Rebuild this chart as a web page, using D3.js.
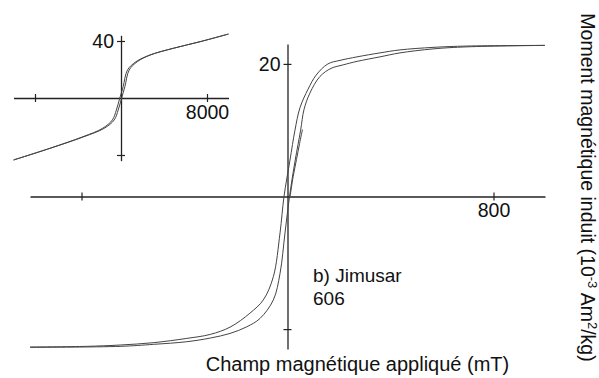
<!DOCTYPE html>
<html>
<head>
<meta charset="utf-8">
<script src="https://cdn.jsdelivr.net/npm/d3@7"></script>
<style>
  body { margin: 0; background: #fff; }
  svg text { font-family: "Liberation Sans", Arial, sans-serif; fill: #111; }
</style>
</head>
<body>
<div id="chart"></div>
<script>
// Main loop (field in mT, moment in 10^-3 Am2/kg)
const descendingBranch = [
  [1000, 22.79], [697, 22.69], [565, 22.49], [437, 22.11], [359, 21.66], [270, 21.06],
  [204, 20.53], [157, 20.0], [111, 18.3], [80, 16.2], [48.5, 13.4], [29, 10],
  [9.7, 5.5], [-13.6, 0], [-29, -5.5], [-55, -12.1], [-94, -15.6], [-146, -17.6],
  [-223, -19.7], [-300, -20.8], [-391, -21.4], [-521, -22.05], [-650, -22.4],
  [-780, -22.6], [-1000, -22.7]
];
const ascendingBranch = [
  [-1000, -22.75], [-650, -22.6], [-521, -22.3], [-391, -21.9], [-300, -21.35],
  [-223, -20.65], [-158, -19.65], [-107, -18.4], [-55, -15.6], [-29, -11.6],
  [-9.7, -5.5], [7.8, 0], [30, 5.5], [51, 10], [64, 13.1], [87, 15.6],
  [126, 18.1], [169, 19.32], [216, 19.85], [270, 20.38], [359, 21.06],
  [437, 21.66], [565, 22.26], [697, 22.57], [1000, 22.79]
];
const initialCurve = [[10, 0], [22, 3], [35, 5.6], [47, 8], [58, 10.1]];

// Inset (high field)
const insetDescending = [
  [10000, 44.9], [7350, 39.5], [4865, 34.9], [2698, 30.2], [1400, 25.5], [600, 19.6],
  [200, 7.9], [-110, 0], [-430, -8.4], [-800, -15.4], [-1720, -21.3], [-3550, -27.2],
  [-6620, -35.3], [-10000, -43.5]
];
const insetAscending = [
  [-10000, -43.5], [-6590, -35.3], [-3460, -27.2], [-1570, -21.3], [-630, -15.4],
  [-260, -8.4], [60, 0], [360, 7.9], [760, 19.6], [1520, 25.5], [2740, 30.2],
  [4880, 34.9], [7350, 39.5], [10000, 44.9]
];

const mainXTicks = [-800, 800];
const mainXTickLabels = ["", "800"];
const mainYTicks = [-20, 20];
const mainYTickLabels = ["", "20"];
const insetXTicks = [-8000, 8000];
const insetXTickLabels = ["", "8000"];
const insetYTicks = [-40, 40];
const insetYTickLabels = ["", "40"];

const xTitle = "Champ magnétique appliqué (mT)";
const sampleLabel = ["b) Jimusar", "606"];

const W = 599, H = 378;
const svg = d3.select("#chart").append("svg")
  .attr("width", W).attr("height", H);

function crossAxes(g, x, y, xt, xl, yt, yl, fontSize) {
  const ax = d3.axisBottom(x).tickValues(xt).tickSizeInner(4).tickSizeOuter(0).tickPadding(3)
    .tickFormat((d, i) => xl[i]);
  const ay = d3.axisLeft(y).tickValues(yt).tickSizeInner(4).tickSizeOuter(0).tickPadding(3)
    .tickFormat((d, i) => yl[i]);
  const gx = g.append("g").attr("transform", `translate(0,${y(0)})`).call(ax);
  const gy = g.append("g").attr("transform", `translate(${x(0)},0)`).call(ay);
  gx.selectAll(".tick line").attr("y1", -4).attr("y2", 4);
  gy.selectAll(".tick line").attr("x1", -4).attr("x2", 4);
  [gx, gy].forEach(a => {
    a.select(".domain").attr("stroke", "#222").attr("stroke-width", 1.3);
    a.selectAll(".tick line").attr("stroke", "#222").attr("stroke-width", 1.2);
    a.selectAll("text").style("font-size", fontSize + "px")
      .style("font-family", '"Liberation Sans", Arial, sans-serif').attr("fill", "#111");
  });
}

// main plot
const x = d3.scaleLinear().domain([-1000, 1000]).range([30, 545]);
const y = d3.scaleLinear().domain([-23, 23]).range([349, 44]);
const main = svg.append("g");
crossAxes(main, x, y, mainXTicks, mainXTickLabels, mainYTicks, mainYTickLabels, 19.5);

const line = d3.line().x(d => x(d[0])).y(d => y(d[1])).curve(d3.curveCatmullRom.alpha(0.5));
[descendingBranch, ascendingBranch, initialCurve].forEach(b => {
  main.append("path").attr("d", line(b))
    .attr("fill", "none").attr("stroke", "#444").attr("stroke-width", 1);
});

// inset
const ix = d3.scaleLinear().domain([-10000, 10000]).range([13.5, 228.5]);
const iy = d3.scaleLinear().domain([-44, 44]).range([160.7, 35.3]);
const inset = svg.append("g");
crossAxes(inset, ix, iy, insetXTicks, insetXTickLabels, insetYTicks, insetYTickLabels, 19.5);
const iline = d3.line().x(d => ix(d[0])).y(d => iy(d[1])).curve(d3.curveCatmullRom.alpha(0.5));
[insetDescending, insetAscending].forEach(b => {
  inset.append("path").attr("d", iline(b))
    .attr("fill", "none").attr("stroke", "#444").attr("stroke-width", 1);
});

// sample label
svg.append("text").attr("x", 313).attr("y", 281.5).style("font-size", "19px").text(sampleLabel[0]);
svg.append("text").attr("x", 313).attr("y", 305).style("font-size", "19px").text(sampleLabel[1]);

// axis titles
svg.append("text").attr("x", 357.5).attr("y", 371).attr("text-anchor", "middle")
  .style("font-size", "20px").text(xTitle);

const yt = svg.append("text").attr("transform", "translate(581,187.5) rotate(90)")
  .attr("text-anchor", "middle").style("font-size", "19.5px");
yt.append("tspan").text("Moment magnétique induit (10");
yt.append("tspan").attr("dy", -7).style("font-size", "13px").text("-3");
yt.append("tspan").attr("dy", 7).text(" Am");
yt.append("tspan").attr("dy", -7).style("font-size", "13px").text("2");
yt.append("tspan").attr("dy", 7).text("/kg)");
</script>
</body>
</html>
